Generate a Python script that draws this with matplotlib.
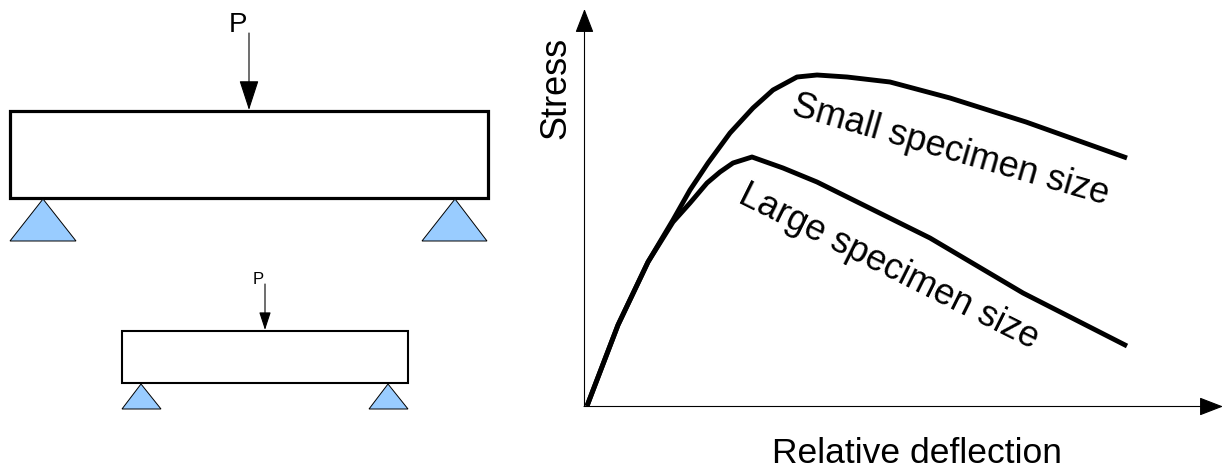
#!/usr/bin/env python

import matplotlib
matplotlib.use('Agg')
import matplotlib.pyplot as plt
from matplotlib.patches import Rectangle, Polygon

plt.rcParams['font.family'] = ['Liberation Sans', 'DejaVu Sans']

# curves (pixel coordinates)
small_x = [587, 618, 648, 673, 690, 708, 730, 753, 773, 797, 817, 847, 890, 950, 1026, 1127]
small_y = [406, 325, 262, 220, 190, 163, 133, 108, 90, 77, 75, 77, 82, 98, 122, 158]
large_x = [587, 618, 648, 673, 690, 707, 720, 733, 752, 783, 817, 930, 1023, 1127]
large_y = [406, 325, 262, 222, 203, 183, 172, 163, 157, 168, 182, 238, 293, 346]

# beams: left, top, width, height
big_beam = (10, 111, 478, 87)
small_beam = (122, 331, 286, 52)
big_supports = [[(10, 241), (43, 199), (76, 241)], [(422, 241), (455, 199), (487, 241)]]
small_supports = [[(122, 409), (141, 384), (161, 409)], [(369, 409), (388, 384), (408, 409)]]

# arrows: start, tip, head length, head half width (pt), line width
arrows = [
    ((249, 33), (249, 110), 19, 6.2, 0.8),
    ((265, 284), (265, 330), 11, 3.6, 0.8),
    ((584.5, 406), (584.5, 9), 15, 5.8, 0.8),
    ((584, 406.5), (1223, 406.5), 15, 5.8, 0.8),
]

fig = plt.figure(figsize=(12.23, 4.72), dpi=100)
ax = fig.add_axes([0, 0, 1, 1])
ax.set_xlim(0, 1223)
ax.set_ylim(472, 0)
ax.axis('off')

ax.add_patch(Rectangle(big_beam[:2], big_beam[2], big_beam[3], fc='white', ec='black', lw=2.3))
ax.add_patch(Rectangle(small_beam[:2], small_beam[2], small_beam[3], fc='white', ec='black', lw=1.5))
for tri in big_supports + small_supports:
    ax.add_patch(Polygon(tri, closed=True, fc='#99ccff', ec='black', lw=0.7))

for start, tip, hl, hw, lw in arrows:
    ax.annotate('', xy=tip, xytext=start,
                arrowprops=dict(arrowstyle='-|>,head_length=%g,head_width=%g' % (hl, hw),
                                mutation_scale=1, color='black', lw=lw,
                                shrinkA=0, shrinkB=0))

ax.plot(small_x, small_y, color='black', lw=3.5, solid_capstyle='butt', solid_joinstyle='round')
ax.plot(large_x, large_y, color='black', lw=3.5, solid_capstyle='butt', solid_joinstyle='round')

ax.text(238, 31.5, 'P', fontsize=20, ha='center', va='baseline')
ax.text(258, 284, 'P', fontsize=12, ha='center', va='baseline')
ax.text(556, 88, 'Stress', fontsize=26, rotation=90, ha='center', va='center')
ax.text(917, 463, 'Relative deflection', fontsize=25.5, ha='center', va='baseline')
ax.text(950, 150, 'Small specimen size', fontsize=26, rotation=-16, ha='center', va='center')
ax.text(889, 267, 'Large specimen size', fontsize=26, rotation=-26.5, ha='center', va='center')

plt.savefig('out.png', dpi=100)
